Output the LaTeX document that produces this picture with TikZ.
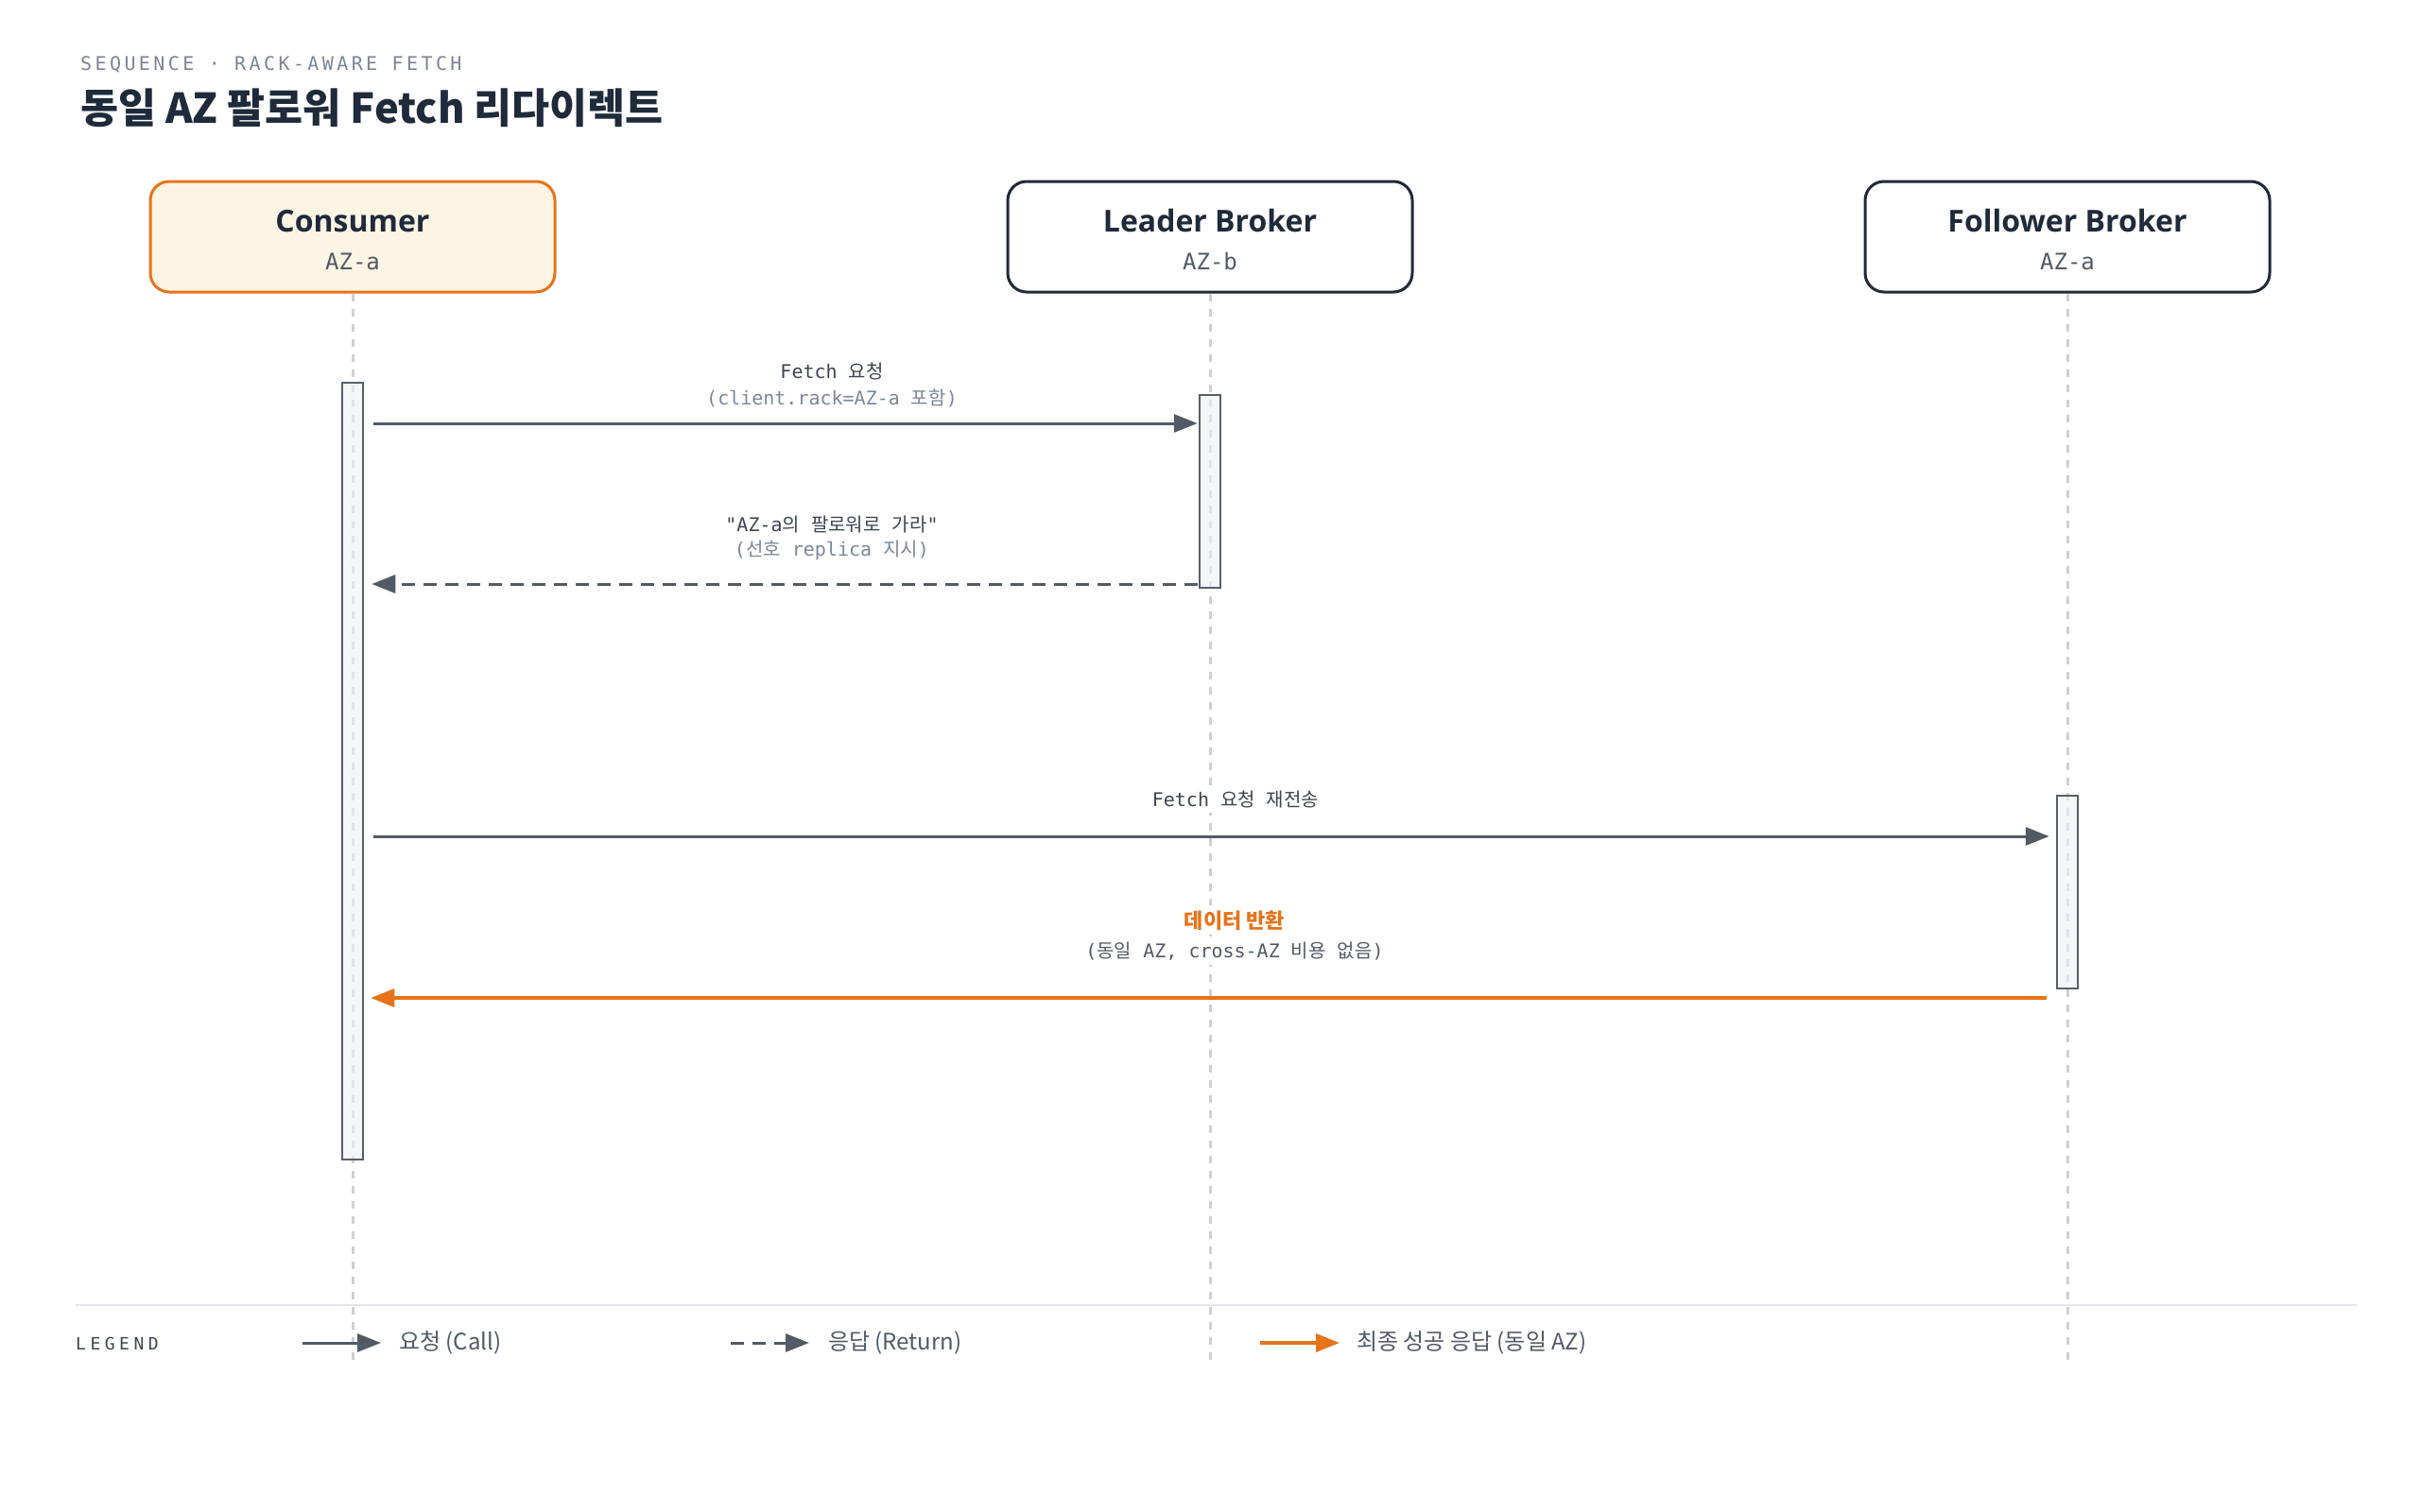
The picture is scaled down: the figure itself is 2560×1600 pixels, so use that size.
\documentclass[tikz,border=0pt]{standalone}
\usepackage{fontspec}
\setmainfont{Noto Sans}
\newfontfamily\kr{Noto Sans CJK KR}
\newfontfamily\actorface{Open Sans}
\newfontfamily\mono{DejaVu Sans Mono}
\newfontfamily\monowide{DejaVu Sans Mono}[LetterSpace=17]
\newfontfamily\monolegend{DejaVu Sans Mono}[LetterSpace=25]
\usepackage{tikz}
\usetikzlibrary{arrows.meta, positioning}

\definecolor{ink}{HTML}{1F2A3B}
\definecolor{subgray}{HTML}{7C8595}
\definecolor{hot}{HTML}{E8731A}
\definecolor{cream}{HTML}{FEF4E3}
\definecolor{wire}{HTML}{535A66}
\definecolor{lifegray}{HTML}{CDD0D5}
\definecolor{barfill}{HTML}{EEF0F3}
\definecolor{bargray}{HTML}{5A606B}
\definecolor{msgink}{HTML}{3F4550}
\definecolor{noteink}{HTML}{7D8799}
\definecolor{sepgray}{HTML}{E6E7EA}

\newcommand{\msgfont}{\fontsize{20}{24}\selectfont\mono}
\newcommand{\hg}[1]{{\kr #1}}

\begin{document}
\begin{tikzpicture}[x=1pt,y=-1pt,
	actor/.style={draw=ink, fill=white, line width=3pt, rounded corners=20pt, minimum width=428pt, minimum height=117pt, inner sep=0pt},
	actorname/.style={anchor=base, inner sep=0pt, text=ink, font=\fontsize{32}{38}\selectfont\actorface\bfseries},
	actoraz/.style={anchor=base, inner sep=0pt, text=wire, font=\fontsize{24}{28}\selectfont\mono},
	life/.style={draw=lifegray, line width=3pt, dash pattern=on 8pt off 8pt},
	activation/.style={draw=bargray, fill=barfill, fill opacity=.6, line width=2.5pt, minimum width=22pt, inner sep=0pt},
	call/.style={draw=wire, line width=3pt, -{Triangle[length=25pt,width=19pt]}},
	ret/.style={call, dash pattern=on 14pt off 9pt},
	final/.style={draw=hot, line width=3.5pt, -{Triangle[length=25pt,width=19pt]}},
	msg/.style={anchor=base, fill=white, inner sep=5pt, text=msgink, font=\msgfont},
	note/.style={msg, text=noteink},
	legendtext/.style={inner sep=0pt, text=wire, font=\fontsize{24}{28}\selectfont\kr}]

	\fill[white] (0,0) rectangle (2560,1600);
	\useasboundingbox (0,0) rectangle (2560,1600);

	% heading
	\node[anchor=base west, inner sep=0pt, text=subgray, font=\fontsize{20}{24}\selectfont\monowide] (kicker) at (85,75) {SEQUENCE · RACK-AWARE FETCH};
	\node[anchor=base west, inner sep=0pt, text=ink, font=\fontsize{43.5}{52}\selectfont\kr\bfseries] (title) at (85,131) {동일 AZ 팔로워 Fetch 리다이렉트};

	% participants
	\node[actor, draw=hot, fill=cream] (consumer) at (373,250.5) {};
	\node[actor]                       (leader)   at (1280,250.5) {};
	\node[actor]                       (follower) at (2187,250.5) {};

	\node[actorname] (consumer-name) at ([yshift=5.5pt]consumer.center) {Consumer};
	\node[actoraz]   (consumer-az)   at ([yshift=-34.5pt]consumer.center) {AZ-a};
	\node[actorname] (leader-name)   at ([yshift=5.5pt]leader.center) {Leader Broker};
	\node[actoraz]   (leader-az)     at ([yshift=-34.5pt]leader.center) {AZ-b};
	\node[actorname] (follower-name) at ([yshift=5.5pt]follower.center) {Follower Broker};
	\node[actoraz]   (follower-az)   at ([yshift=-34.5pt]follower.center) {AZ-a};

	% lifelines
	\draw[life] (consumer.south) -- (consumer.south |- 0,1440);
	\draw[life] (leader.south)   -- (leader.south |- 0,1440);
	\draw[life] (follower.south) -- (follower.south |- 0,1440);

	% activations
	\node[activation, minimum height=822pt] (consumer-bar) at (373,816) {};
	\node[activation, minimum height=204pt] (leader-bar)   at (1280,520) {};
	\node[activation, minimum height=204pt] (follower-bar) at (2187,944) {};

	% messages
	\coordinate (m1) at (0,448);
	\coordinate (m2) at (0,618);
	\coordinate (m3) at (0,885);
	\coordinate (m4) at (0,1056);

	\draw[call, shorten <=10pt, shorten >=1pt] (consumer-bar.east |- m1) -- (leader-bar.west |- m1);
	\draw[ret, shorten <=1pt, shorten >=8pt]   (leader-bar.west |- m2) -- (consumer-bar.east |- m2);
	\draw[call, shorten <=10pt, shorten >=7pt] (consumer-bar.east |- m3) -- (follower-bar.west |- m3);
	\draw[final, shorten <=10pt, shorten >=7pt] (follower-bar.west |- m4) -- (consumer-bar.east |- m4);

	\node[msg]  (m1-text) at (880,400) {Fetch \hg{요청}};
	\node[note] (m1-note) at (880,428) {(client.rack=AZ-a \hg{포함})};
	\node[msg]  (m2-text) at (880,562) {"AZ-a\hg{의} \hg{팔로워로} \hg{가라}"};
	\node[note] (m2-note) at (880,588) {(\hg{선호} replica \hg{지시})};
	\node[msg]  (m3-text) at (1307,853) {Fetch \hg{요청} \hg{재전송}};
	\node[msg, text=hot, font=\fontsize{22}{26}\selectfont\kr\bfseries] (m4-text) at (1306,982) {데이터 반환};
	\node[msg, text=wire] (m4-note) at (1306,1013) {(\hg{동일} AZ, cross-AZ \hg{비용} \hg{없음})};

	% legend
	\draw[sepgray, line width=2pt] (80,1381) -- (2493,1381);
	\node[anchor=base west, inner sep=0pt, text=msgink, font=\fontsize{18}{22}\selectfont\monolegend] (legend) at (80,1428) {LEGEND};

	\coordinate (lg-call-a) at (320,1421);
	\coordinate (lg-call-b) at (403,1421);
	\coordinate (lg-ret-a)  at (773,1421);
	\coordinate (lg-ret-b)  at (856,1421);
	\coordinate (lg-fin-a)  at (1333,1421);
	\coordinate (lg-fin-b)  at (1417,1421);

	\draw[call]  (lg-call-a) -- (lg-call-b);
	\draw[ret]   (lg-ret-a)  -- (lg-ret-b);
	\draw[final] (lg-fin-a)  -- (lg-fin-b);

	\node[legendtext, right=19pt of lg-call-b] (lg-call) {요청 (Call)};
	\node[legendtext, right=20pt of lg-ret-b]  (lg-ret)  {응답 (Return)};
	\node[legendtext, right=18pt of lg-fin-b]  (lg-fin)  {최종 성공 응답 (동일 AZ)};
\end{tikzpicture}
\end{document}
